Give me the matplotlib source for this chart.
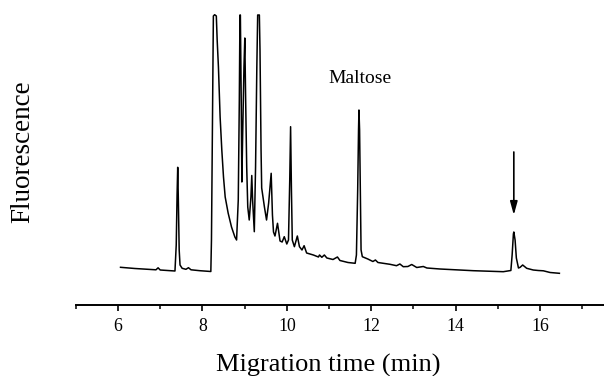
import matplotlib
matplotlib.use("Agg")
import matplotlib.pyplot as plt
from matplotlib.ticker import MultipleLocator

plt.rcParams['font.family'] = ['Liberation Serif', 'DejaVu Serif']

# Electropherogram trace: migration time (min) and fluorescence (a.u.)
time_min = [6.06, 6.40, 6.76, 6.90, 6.95, 7.00, 7.23, 7.35, 7.38, 7.40, 7.415, 7.43, 7.45, 7.47,
            7.52, 7.61, 7.67, 7.73, 7.94, 8.20, 8.215, 8.23, 8.245, 8.26, 8.29, 8.33, 8.35, 8.38,
            8.42, 8.46, 8.50, 8.54, 8.61, 8.69, 8.77, 8.81, 8.85, 8.875, 8.89, 8.90, 8.92, 8.935,
            8.955, 8.985, 9.005, 9.025, 9.05, 9.075, 9.11, 9.15, 9.17, 9.19, 9.23, 9.26, 9.29,
            9.31, 9.35, 9.365, 9.39, 9.405, 9.47, 9.52, 9.57, 9.63, 9.66, 9.685, 9.72, 9.78,
            9.84, 9.89, 9.94, 10.00, 10.04, 10.07, 10.09, 10.11, 10.13, 10.18, 10.25, 10.30,
            10.36, 10.41, 10.47, 10.63, 10.75, 10.775, 10.83, 10.89, 10.95, 11.095, 11.20, 11.26,
            11.45, 11.62, 11.65, 11.68, 11.70, 11.71, 11.725, 11.745, 11.76, 11.79, 11.92, 12.04,
            12.10, 12.16, 12.445, 12.60, 12.68, 12.76, 12.87, 12.96, 13.08, 13.235, 13.32, 13.63,
            14.42, 15.13, 15.31, 15.34, 15.37, 15.38, 15.41, 15.44, 15.49, 15.53, 15.59, 15.685,
            15.84, 15.96, 16.08, 16.24, 16.46]
signal = [36.7, 35.5, 34.5, 34.2, 36.2, 34.0, 33.3, 33.0, 59, 109, 136.7, 104, 54, 39,
          35.7, 34.7, 36.3, 34.2, 33.3, 32.5, 64, 139, 224, 288, 289.3, 288, 264, 237,
          187, 154, 127, 107, 91, 77, 67, 64, 104, 204, 289, 289, 204, 122,
          171, 237, 266, 204, 137, 97, 84, 107, 128.5, 104, 72.3, 137, 237,
          289, 289, 254, 154, 116, 97, 84, 101, 130.7, 89, 72, 68, 80.7,
          63, 62, 67.3, 60, 64, 124, 177.3, 114, 64, 57.3, 68, 57.3,
          54, 58.3, 51, 49, 47, 49, 46.7, 49, 46, 44.5, 47, 43.5,
          41.5, 40.7, 49, 114, 174, 194, 174, 104, 54, 47.3, 45, 42.5,
          44, 41.5, 39.7, 38.3, 40, 37.3, 37.5, 39.5, 36.5, 37.5, 36, 35,
          33.3, 32.3, 33.5, 49, 70, 72, 64, 46, 36, 36.7, 39, 35.7,
          34, 33.5, 33.2, 31.5, 30.7]

major_ticks = [6, 8, 10, 12, 14, 16]
tick_labels = ['6', '8', '10', '12', '14', '16']

maltose_label = 'Maltose'
maltose_pos = (11.73, 221)
arrow_time = 15.38
arrow_from = 152
arrow_to = 89

W, H = 604, 376
fig = plt.figure(figsize=(W / 100, H / 100), dpi=100)
ax = fig.add_axes([75.8 / W, 71 / H, 1 - 75.8 / W, 305 / H])
ax.plot(time_min, signal, color='black', lw=1.1, solid_joinstyle='round')

ax.set_xlim(5, 17.517)
ax.set_ylim(-1, 304)
for s in ['left', 'right', 'top']:
    ax.spines[s].set_visible(False)
ax.spines['bottom'].set_linewidth(1.4)
ax.set_yticks([])
ax.set_xticks(major_ticks)
ax.set_xticklabels(tick_labels, fontsize=12.8)
ax.xaxis.set_minor_locator(MultipleLocator(1))
ax.tick_params(axis='x', which='major', direction='out', length=4.5, width=1.2, pad=5)
ax.tick_params(axis='x', which='minor', direction='out', length=3, width=1.1)

ax.text(maltose_pos[0], maltose_pos[1], maltose_label, ha='center', va='baseline', fontsize=14)
ax.annotate('', xy=(arrow_time, arrow_to), xytext=(arrow_time, arrow_from),
            arrowprops=dict(arrowstyle='-|>,head_length=0.8,head_width=0.22', lw=1.2,
                            color='black', shrinkA=0, shrinkB=0))

fig.text(328 / W, 1 - 372 / H, 'Migration time (min)', ha='center', va='baseline', fontsize=19)
fig.text(23 / W, 1 - 151.5 / H, 'Fluorescence', ha='center', va='center', rotation=90, fontsize=19.5)

fig.savefig('out.png', dpi=100)
